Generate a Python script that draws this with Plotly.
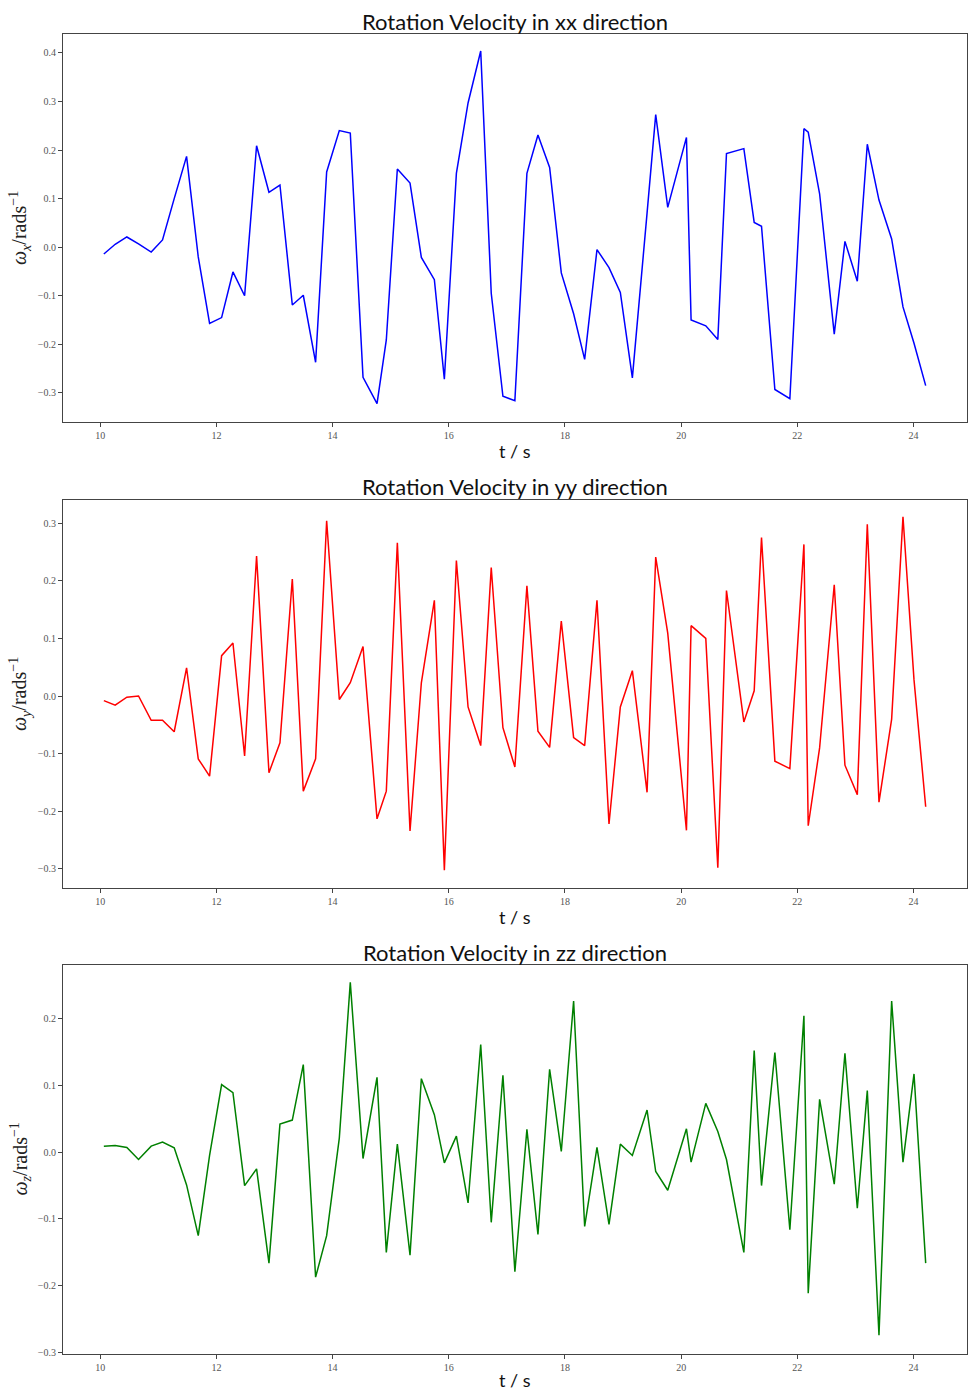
import plotly.graph_objects as go

# ---- data ----
t = [10.063, 10.258, 10.459, 10.660, 10.878, 11.073, 11.274, 11.487, 11.688, 11.883,
     12.090, 12.285, 12.486, 12.692, 12.905, 13.094, 13.307, 13.496, 13.708, 13.898,
     14.116, 14.305, 14.524, 14.765, 14.925, 15.115, 15.333, 15.528, 15.752, 15.924,
     16.131, 16.332, 16.550, 16.731, 16.932, 17.138, 17.345, 17.535, 17.736, 17.937,
     18.149, 18.339, 18.551, 18.758, 18.953, 19.160, 19.413, 19.562, 19.769, 20.091,
     20.171, 20.424, 20.631, 20.780, 21.079, 21.257, 21.383, 21.613, 21.871, 22.113,
     22.187, 22.383, 22.635, 22.819, 23.032, 23.204, 23.405, 23.623, 23.818, 24.008,
     24.209]

omega_x = [-0.014, 0.006, 0.021, 0.007, -0.010, 0.015, 0.100, 0.187, -0.020, -0.157,
           -0.145, -0.051, -0.100, 0.209, 0.113, 0.128, -0.119, -0.099, -0.237, 0.155,
           0.240, 0.235, -0.268, -0.322, -0.191, 0.161, 0.132, -0.021, -0.067, -0.272,
           0.152, 0.297, 0.404, -0.095, -0.307, -0.316, 0.152, 0.231, 0.164, -0.053,
           -0.137, -0.231, -0.005, -0.042, -0.093, -0.269, 0.070, 0.273, 0.082, 0.226,
           -0.150, -0.162, -0.190, 0.193, 0.203, 0.051, 0.043, -0.293, -0.312, 0.244,
           0.237, 0.110, -0.179, 0.012, -0.070, 0.212, 0.097, 0.017, -0.123, -0.198,
           -0.285]

omega_y = [-0.008, -0.016, -0.002, 0.000, -0.042, -0.042, -0.062, 0.049, -0.109, -0.139,
           0.070, 0.092, -0.104, 0.243, -0.133, -0.081, 0.203, -0.165, -0.109, 0.304,
           -0.006, 0.023, 0.086, -0.213, -0.165, 0.266, -0.234, 0.023, 0.166, -0.302,
           0.235, -0.019, -0.086, 0.223, -0.055, -0.123, 0.191, -0.061, -0.089, 0.130,
           -0.072, -0.086, 0.166, -0.222, -0.019, 0.044, -0.167, 0.241, 0.109, -0.233,
           0.122, 0.100, -0.298, 0.183, -0.045, 0.009, 0.275, -0.113, -0.126, 0.263,
           -0.225, -0.090, 0.193, -0.120, -0.171, 0.298, -0.184, -0.040, 0.311, 0.028,
           -0.192]

omega_z = [0.009, 0.010, 0.007, -0.011, 0.009, 0.015, 0.0065, -0.049, -0.125, -0.005,
           0.101, 0.089, -0.050, -0.025, -0.166, 0.042, 0.048, 0.131, -0.187, -0.125,
           0.021, 0.254, -0.0095, 0.112, -0.150, 0.012, -0.154, 0.110, 0.056, -0.016,
           0.024, -0.076, 0.161, -0.105, 0.115, -0.179, 0.034, -0.123, 0.124, 0.001,
           0.226, -0.111, 0.007, -0.108, 0.012, -0.005, 0.063, -0.029, -0.057, 0.035,
           -0.015, 0.073, 0.031, -0.011, -0.150, 0.152, -0.050, 0.149, -0.116, 0.204,
           -0.211, 0.079, -0.048, 0.148, -0.084, 0.092, -0.274, 0.226, -0.015, 0.117,
           -0.166]

titles = ["Rotation Velocity in xx direction",
          "Rotation Velocity in yy direction",
          "Rotation Velocity in zz direction"]
ylabels = ["<i>ω</i><sub><i>x</i></sub>/rads<sup>−1</sup>",
           "<i>ω</i><sub><i>y</i></sub>/rads<sup>−1</sup>",
           "<i>ω</i><sub><i>z</i></sub>/rads<sup>−1</sup>"]
xlabel = "t / s"
x_ticks = [10, 12, 14, 16, 18, 20, 22, 24]
y_ticks = [[-0.3, -0.2, -0.1, 0.0, 0.1, 0.2, 0.3, 0.4],
           [-0.3, -0.2, -0.1, 0.0, 0.1, 0.2, 0.3],
           [-0.3, -0.2, -0.1, 0.0, 0.1, 0.2]]
series = [omega_x, omega_y, omega_z]
colors = ["#0000ff", "#ff0000", "#008000"]
y_ranges = [[-0.360, 0.439], [-0.333, 0.340], [-0.302, 0.280]]

# ---- layout geometry (pixels) ----
W, H = 973, 1390
ML, MR, MT, MB = 63, 6, 34, 36
PW = W - ML - MR
PH = H - MT - MB
panels_px = [(34, 422), (500, 888), (965, 1354)]  # top, bottom of each plot area
xlabel_gap = [29, 29, 26]


def py2paper(py):
    return (H - MB - py) / PH


def px2paper(px):
    return (px - ML) / PW


fig = go.Figure()
axis_common = dict(showline=True, mirror=True, linecolor="#444444", linewidth=1,
                   ticks="outside", ticklen=4, tickwidth=1, tickcolor="#444444",
                   showgrid=False, zeroline=False,
                   tickfont=dict(family="Liberation Serif", size=10, color="#555555"))

annotations = []
for i in range(3):
    n = "" if i == 0 else str(i + 1)
    fig.add_trace(go.Scatter(x=t, y=series[i], mode="lines",
                             line=dict(color=colors[i], width=1.5),
                             xaxis="x" + n, yaxis="y" + n, showlegend=False))
    top, bot = panels_px[i]
    fig.update_layout(**{
        "xaxis" + n: dict(axis_common, anchor="y" + n, domain=[0, 1],
                          range=[9.36, 24.92], tickmode="array", tickvals=x_ticks),
        "yaxis" + n: dict(axis_common, anchor="x" + n,
                          domain=[py2paper(bot), py2paper(top)],
                          range=y_ranges[i], tickmode="array", tickvals=y_ticks[i],
                          tickformat=".1f"),
    })
    annotations.append(dict(text=titles[i], xref="paper", yref="paper",
                            x=0.5, y=py2paper(top - 13), xanchor="center", yanchor="middle",
                            showarrow=False,
                            font=dict(family="Lato", size=22, color="#111111")))
    annotations.append(dict(text=xlabel, xref="paper", yref="paper",
                            x=0.5, y=py2paper(bot + xlabel_gap[i]), xanchor="center",
                            yanchor="middle", showarrow=False,
                            font=dict(family="Lato", size=18, color="#111111")))
    annotations.append(dict(text=ylabels[i], xref="paper", yref="paper",
                            x=px2paper(20), y=py2paper((top + bot) / 2),
                            xanchor="center", yanchor="middle", textangle=-90,
                            showarrow=False,
                            font=dict(family="Liberation Serif", size=20, color="#222222")))

fig.update_layout(width=W, height=H, margin=dict(l=ML, r=MR, t=MT, b=MB),
                  paper_bgcolor="white", plot_bgcolor="white",
                  annotations=annotations, showlegend=False)

fig.write_html("out.html",
               config={"displayModeBar": False},
               post_script="document.body.style.margin='0';"
                           "document.body.style.overflow='hidden';")
